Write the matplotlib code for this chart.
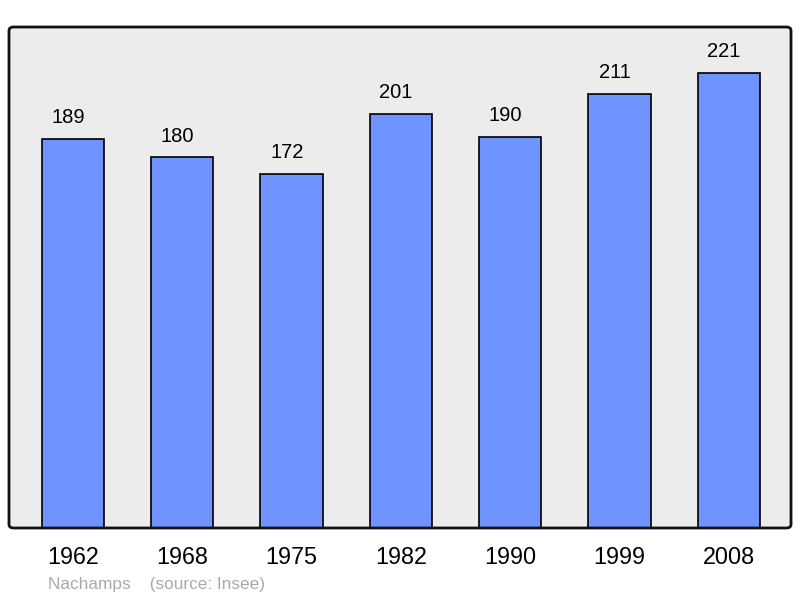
import matplotlib.pyplot as plt
from matplotlib.patches import FancyBboxPatch

plt.rcParams['font.family'] = ['Liberation Sans', 'DejaVu Sans']

years = ["1962", "1968", "1975", "1982", "1990", "1999", "2008"]
population = [189, 180, 172, 201, 190, 211, 221]
commune = "Nachamps"
source = "(source: Insee)"

fig = plt.figure(figsize=(8, 5.98), dpi=100)
ax = fig.add_axes([9 / 800, 70 / 598, 782 / 800, 501 / 598])
ax.set_facecolor("#ececec")

x = range(len(years))
bars = ax.bar(x, population, width=0.57, color="#7094ff", edgecolor="black", linewidth=1.2, zorder=2)
for xi, v in zip(x, population):
    # labels sit a little left of the bar centre in the original
    ax.annotate(str(v), (xi, v), xytext=(-3.5, 8.5), textcoords="offset points",
                ha="center", va="bottom", fontsize=14.5)

ax.set_xlim(-0.586, 6.569)
ax.set_ylim(0, 243.3)
ax.set_yticks([])
ax.set_xticks(list(x))
ax.set_xticklabels(years, fontsize=16.8)
ax.tick_params(axis="x", length=0, pad=13)
for s in ax.spines.values():
    s.set_visible(False)

frame = FancyBboxPatch((9 / 800, 70 / 598), 782 / 800, 501 / 598,
                       boxstyle="round,pad=0,rounding_size=0.006",
                       transform=fig.transFigure, fill=False,
                       edgecolor="#111111", linewidth=2, zorder=5)
fig.patches.append(frame)

fig.text(48 / 800, 1 - 584 / 598, commune + "    " + source, color="#aaaaaa",
         fontsize=12.4, va="center", ha="left")

fig.savefig("out.png", dpi=100)
